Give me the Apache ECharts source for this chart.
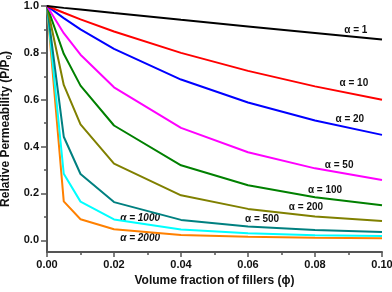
<!DOCTYPE html>
<html><head><meta charset="utf-8">
<script src="https://cdn.jsdelivr.net/npm/echarts@6/dist/echarts.min.js"></script>
<style>html,body{margin:0;padding:0;background:#fff}#c{width:392px;height:292px}</style>
</head><body><div id="c"></div>
<script>
const phi = [0, 0.005, 0.01, 0.02, 0.04, 0.06, 0.08, 0.10];
const alpha1    = [1, 0.992, 0.985, 0.970, 0.941, 0.913, 0.885, 0.857];
const alpha10   = [1, 0.971, 0.943, 0.891, 0.800, 0.723, 0.657, 0.600];
const alpha20   = [1, 0.948, 0.900, 0.817, 0.686, 0.588, 0.511, 0.450];
const alpha50   = [1, 0.884, 0.792, 0.653, 0.480, 0.376, 0.307, 0.257];
const alpha100  = [1, 0.796, 0.660, 0.490, 0.320, 0.235, 0.184, 0.150];
const alpha200  = [1, 0.663, 0.495, 0.327, 0.192, 0.134, 0.102, 0.082];
const alpha500  = [1, 0.442, 0.283, 0.163, 0.087, 0.059, 0.044, 0.035];
const alpha1000 = [1, 0.284, 0.165, 0.089, 0.046, 0.030, 0.022, 0.018];
const alpha2000 = [1, 0.166, 0.090, 0.047, 0.023, 0.015, 0.011, 0.009];
const seriesNames = ['α = 1','α = 10','α = 20','α = 50','α = 100','α = 200','α = 500','α = 1000','α = 2000'];
const seriesValues = [alpha1, alpha10, alpha20, alpha50, alpha100, alpha200, alpha500, alpha1000, alpha2000];
const yMajorTicks = [0, 0.2, 0.4, 0.6, 0.8, 1.0];
const yMinorTicks = [0.1, 0.3, 0.5, 0.7, 0.9];

// presentation
const colors = ['#000000','#ff0000','#0000ff','#ff00ff','#008000','#808000','#008080','#00ffff','#ff8000'];
const labelAnchors = [[0.0922,0.897],[0.0916,0.671],[0.0904,0.517],[0.0872,0.321],[0.0830,0.214],[0.0773,0.141],[0.0642,0.090],[0.0278,0.094],[0.0278,0.009]];
const italicLabel = [false,false,false,false,false,false,false,true,true];

const axisColor = '#555';
const font = 'Liberation Sans, Arial, sans-serif';
const series = seriesNames.map((name, k) => ({
  name, type: 'line', symbol: 'none', animation: false,
  lineStyle: { width: 2, color: colors[k] },
  itemStyle: { color: colors[k] },
  data: phi.map((x, i) => [x, seriesValues[k][i]]),
  z: 20 - k,
  markPoint: {
    symbol: 'circle', symbolSize: 0, animation: false,
    label: { show: true, position: 'inside', formatter: name, color: '#111',
      fontFamily: font, fontWeight: 'bold', fontSize: 10,
      fontStyle: italicLabel[k] ? 'italic' : 'normal' },
    data: [{ coord: labelAnchors[k] }]
  }
}));

const chart = echarts.init(document.getElementById('c'), null, { renderer: 'canvas' });
chart.setOption({
  animation: false,
  grid: { left: 47, right: 10, top: 6, bottom: 40, containLabel: false, outerBoundsMode: 'none' },
  xAxis: {
    type: 'value', min: 0, max: 0.1, interval: 0.02,
    name: 'Volume fraction of fillers (ϕ)', nameLocation: 'middle', nameGap: 16,
    nameTextStyle: { fontFamily: font, fontWeight: 'bold', fontSize: 12, color: '#111' },
    axisLine: { show: true, onZero: false, lineStyle: { color: axisColor, width: 2 } },
    axisTick: { show: true, length: 5, lineStyle: { color: axisColor, width: 1.5 } },
    minorTick: { show: true, splitNumber: 2, length: 3, lineStyle: { color: axisColor, width: 1.5 } },
    axisLabel: { margin: 7, fontFamily: font, fontWeight: 'bold', fontSize: 11, color: '#111',
      formatter: v => v.toFixed(2) },
    splitLine: { show: false }
  },
  yAxis: [{
    type: 'value', min: -0.05, max: 1.0,
    name: 'Relative Permeability (P/P{sub|0})', nameLocation: 'middle', nameGap: 27,
    nameTextStyle: { fontFamily: font, fontWeight: 'bold', fontSize: 12, color: '#111',
      rich: { sub: { fontFamily: font, fontWeight: 'bold', fontSize: 8, color: '#111', padding: [6, 0, 0, 0] } } },
    axisLine: { show: true, onZero: false, lineStyle: { color: axisColor, width: 2 } },
    axisTick: { show: true, length: 6, customValues: yMajorTicks, lineStyle: { color: axisColor, width: 1.5 } },
    axisLabel: { margin: 8, customValues: yMajorTicks, fontFamily: font, fontWeight: 'bold', fontSize: 11, color: '#111',
      formatter: v => v.toFixed(1) },
    splitLine: { show: false }
  }, {
    type: 'value', min: -0.05, max: 1.0, position: 'left',
    axisLine: { show: false },
    axisTick: { show: true, length: 3, customValues: yMinorTicks, lineStyle: { color: axisColor, width: 1.5 } },
    axisLabel: { show: false, customValues: yMinorTicks },
    splitLine: { show: false }
  }],
  series
});
</script></body></html>
